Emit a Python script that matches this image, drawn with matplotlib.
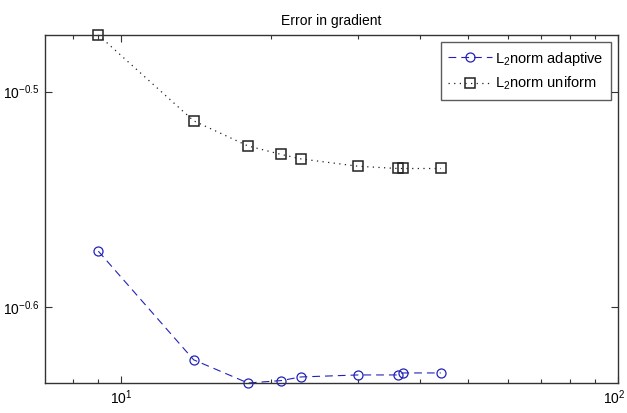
import matplotlib
matplotlib.use('Agg')
import matplotlib.pyplot as plt
import matplotlib.transforms as mtransforms
from matplotlib.ticker import FixedLocator, NullLocator, LogLocator, NullFormatter

plt.rcParams['font.family'] = ['Liberation Sans', 'DejaVu Sans']
plt.rcParams['mathtext.fontset'] = 'custom'
plt.rcParams['mathtext.rm'] = 'Liberation Sans'
plt.rcParams['mathtext.it'] = 'Liberation Sans'
plt.rcParams['mathtext.default'] = 'regular'

# data
dofs = [9, 14, 18, 21, 23, 30, 36, 37, 44]
err_adaptive = [0.2667, 0.2375, 0.2317, 0.2323, 0.2332, 0.2337, 0.2337, 0.2342, 0.2342]
err_uniform = [0.3359, 0.3065, 0.2984, 0.2957, 0.2943, 0.2920, 0.2913, 0.2913, 0.2913]

ytick_vals = [10 ** -0.6, 10 ** -0.5]
ytick_labels = ['$10^{-0.6}$', '$10^{-0.5}$']

fig = plt.figure(figsize=(6.27, 4.13), dpi=100)
ax = fig.add_axes([45 / 627, 30 / 413, 573 / 627, 348 / 413])

ax.loglog(dofs, err_adaptive, color='#2222bb', linestyle=(0, (7, 4.5)), linewidth=0.8,
          marker='o', markersize=6.5, markerfacecolor='none', markeredgecolor='#2222bb',
          markeredgewidth=0.9, clip_on=False, label='L$_2$norm adaptive')
ax.loglog(dofs, err_uniform, color='#222222', linestyle=(0, (1, 3.5)), linewidth=0.9,
          marker='s', markersize=7, markerfacecolor='none', markeredgecolor='#222222',
          markeredgewidth=1.1, clip_on=False, label='L$_2$norm uniform')

ax.set_xlim(7.03, 100)
ax.set_ylim(0.2317, 0.3359)

ax.xaxis.set_major_locator(FixedLocator([10, 100]))
ax.xaxis.set_minor_locator(LogLocator(base=10, subs=range(2, 10)))
ax.xaxis.set_minor_formatter(NullFormatter())
ax.set_xticklabels(['$10^1$', '$10^2$'])
ax.yaxis.set_major_locator(FixedLocator(ytick_vals))
ax.yaxis.set_minor_locator(NullLocator())
ax.set_yticklabels(ytick_labels)

ax.tick_params(which='both', direction='in', top=True, right=True, labelsize=10,
               color='#333333', width=0.8)
ax.tick_params(which='major', length=5, pad=4)
ax.tick_params(which='minor', length=3)
for s in ax.spines.values():
    s.set_linewidth(1.0)
    s.set_color('#333333')

# keep the right-most tick label inside the canvas
last = ax.get_xticklabels()[-1]
last.set_transform(last.get_transform() + mtransforms.ScaledTranslation(-4 / 100, 0, fig.dpi_scale_trans))

ax.set_title('Error in gradient', fontsize=10, pad=7)

leg = ax.legend(loc='upper right', fontsize=10.5, frameon=True, fancybox=False,
                edgecolor='#333333', borderpad=0.5, handlelength=3.0,
                handletextpad=0.2, labelspacing=0.5, borderaxespad=0.5)
leg.get_frame().set_linewidth(1.0)

fig.savefig('out.png', dpi=100)
